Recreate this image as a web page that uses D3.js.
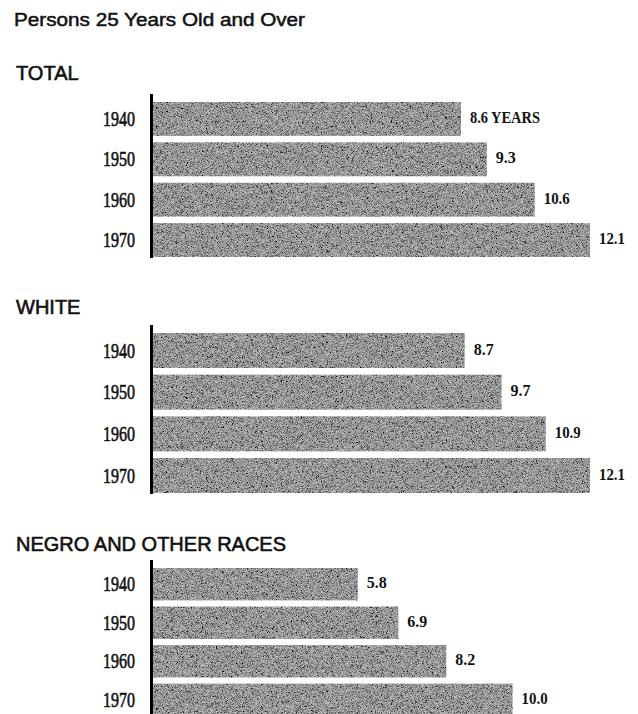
<!DOCTYPE html>
<html>
<head>
<meta charset="utf-8">
<script src="https://cdn.jsdelivr.net/npm/d3@7"></script>
<style>
  body { margin: 0; background: #fff; }
  svg  { display: block; }
</style>
</head>
<body>
<svg width="638" height="714"></svg>
<script>

// median school years completed, persons 25 and over
const years      = ["1940", "1950", "1960", "1970"];
const totalVals  = [8.6, 9.3, 10.6, 12.1];
const whiteVals  = [8.7, 9.7, 10.9, 12.1];
const negroVals  = [5.8, 6.9, 8.2, 10.0];

const title      = "Persons 25 Years Old and Over";
const panelNames = ["TOTAL", "WHITE", "NEGRO AND OTHER RACES"];

const svg    = d3.select("svg");
const width  = parseInt(svg.attr("width"));
const height = parseInt(svg.attr("height"));

const axis_x = 152;   // the black baseline all bars hang off

// one x scale for all three panels (bars are cut at the axis)
const x = d3.scaleLinear()
  .domain([0, 13])
  .range([144, 144 + 36.86 * 13]);

// where each panel sits vertically
const panels = [
  { name: panelNames[0], values: totalVals, head: 80,  band: [102, 257] },
  { name: panelNames[1], values: whiteVals, head: 314, band: [333, 493] },
  { name: panelNames[2], values: negroVals, head: 551, band: [568, 716] }
];

// grainy halftone look for the bars
const defs = svg.append("defs");
const grain = defs.append("filter")
  .attr("id", "grain")
  .attr("x", 0).attr("y", 0).attr("width", 1).attr("height", 1);
grain.append("feTurbulence")
  .attr("type", "fractalNoise")
  .attr("baseFrequency", 2.2)
  .attr("numOctaves", 1)
  .attr("seed", 3)
  .attr("result", "noise");
grain.append("feColorMatrix")
  .attr("in", "noise")
  .attr("type", "matrix")
  .attr("values", "0 0 0 0 0  0 0 0 0 0  0 0 0 0 0  0 0 0 -2.4 1.6")
  .attr("result", "dots");
grain.append("feFlood").attr("flood-color", "#bdbdbd").attr("result", "paper");
grain.append("feComposite").attr("in", "dots").attr("in2", "paper").attr("operator", "over").attr("result", "mix");
grain.append("feComposite").attr("in", "mix").attr("in2", "SourceAlpha").attr("operator", "in");

svg.append("text")
  .attr("x", 14)
  .attr("y", 26)
  .attr("textLength", 291)
  .attr("lengthAdjust", "spacingAndGlyphs")
  .style("font-family", "'Liberation Sans', Arial, sans-serif")
  .style("font-size", "18px")
  .style("fill", "#111")
  .style("stroke", "#111")
  .style("stroke-width", 0.5)
  .text(title);

panels.forEach(drawPanel);

function drawPanel(p) {

  const g = svg.append("g").attr("class", "panel");

  const y = d3.scaleBand()
    .domain(years)
    .range(p.band)
    .paddingInner(0.16)
    .paddingOuter(0);

  g.append("text")
    .attr("x", 16)
    .attr("y", p.head)
    .style("font-family", "'Liberation Sans', Arial, sans-serif")
    .style("font-size", "20px")
    .style("fill", "#111")
    .style("stroke", "#111")
    .style("stroke-width", 0.6)
    .text(p.name);

  const rows = years.map((yr, i) => ({ year: yr, value: p.values[i] }));

  g.selectAll("rect.bar")
    .data(rows)
    .enter()
    .append("rect")
    .attr("class", "bar")
    .attr("x", axis_x)
    .attr("y", d => y(d.year))
    .attr("width", d => x(d.value) - axis_x)
    .attr("height", y.bandwidth())
    .style("fill", "#888")
    .attr("filter", "url(#grain)");

  // axis line, a bit taller than the bars at the top
  g.append("line")
    .attr("x1", axis_x - 0.5).attr("x2", axis_x - 0.5)
    .attr("y1", p.band[0] - 8)
    .attr("y2", Math.min(p.band[1] + 1, height))
    .style("stroke", "#000")
    .style("stroke-width", 3);

  // year labels, condensed serif
  g.selectAll("text.year")
    .data(rows)
    .enter()
    .append("text")
    .attr("class", "year")
    .attr("x", 135)
    .attr("y", d => y(d.year) + y.bandwidth() / 2 + 7)
    .attr("text-anchor", "end")
    .attr("textLength", 32)
    .attr("lengthAdjust", "spacingAndGlyphs")
    .style("font-family", "'Liberation Serif', 'Times New Roman', serif")
    .style("font-size", "21px")
    .style("fill", "#111")
    .style("stroke", "#111")
    .style("stroke-width", 0.6)
    .text(d => d.year);

  // value labels
  g.selectAll("text.value")
    .data(rows)
    .enter()
    .append("text")
    .attr("class", "value")
    .attr("x", d => x(d.value) + 9)
    .attr("y", d => y(d.year) + y.bandwidth() / 2 + 4)
    .attr("textLength", (d, i) => (p.name === "TOTAL" && i === 0) ? 70 : (d.value >= 10 ? 26 : 20))
    .attr("lengthAdjust", "spacingAndGlyphs")
    .style("font-family", "'Liberation Serif', 'Times New Roman', serif")
    .style("font-weight", "bold")
    .style("font-size", "17px")
    .style("fill", "#111")
    .text((d, i) => (p.name === "TOTAL" && i === 0) ? d3.format(".1f")(d.value) + " YEARS" : d3.format(".1f")(d.value));
}

</script>
</body>
</html>
